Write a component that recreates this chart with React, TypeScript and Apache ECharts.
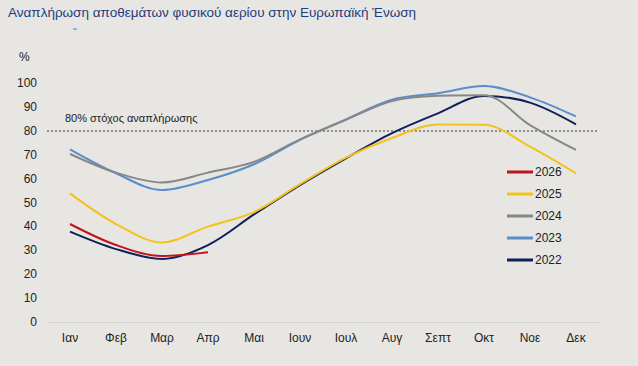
import React, { useEffect, useRef } from "react";
import * as echarts from "echarts";

const months = ["Ιαν", "Φεβ", "Μαρ", "Απρ", "Μαι", "Ιουν", "Ιουλ", "Αυγ", "Σεπτ", "Οκτ", "Νοε", "Δεκ"];
const y2026 = [41, 32.2, 27.6, 29.2];
const y2025 = [53.8, 41, 33.3, 39.9, 46, 57.7, 68.8, 77, 82.6, 82.5, 73.4, 62.2];
const y2024 = [70.3, 62.5, 58.4, 62.5, 67, 76.4, 84.6, 92.5, 94.7, 94.9, 82.4, 72];
const y2023 = [72.2, 62.2, 55.2, 59.4, 66, 76.2, 84.8, 93, 95.7, 98.7, 94, 86];
const y2022 = [37.8, 30.5, 26.4, 32.2, 45, 57.3, 68.5, 79, 87.3, 94.6, 91.8, 82.7];
const targetValue = 80;
const targetLabel = "80% στόχος αναπλήρωσης";
const title = "Αναπλήρωση αποθεμάτων φυσικού αερίου στην Ευρωπαϊκή Ένωση";

const seriesDefs = [
  { name: "2026", data: y2026, color: "#c0141c" },
  { name: "2025", data: y2025, color: "#f3c31c" },
  { name: "2024", data: y2024, color: "#878787" },
  { name: "2023", data: y2023, color: "#5b8ccc" },
  { name: "2022", data: y2022, color: "#0e1f5b" },
];

export default function App() {
  const ref = useRef<HTMLDivElement>(null);
  useEffect(() => {
    if (!ref.current) return;
    const chart = echarts.init(ref.current, null, { renderer: "svg" });
    const font = "Liberation Sans, Arial, sans-serif";
    const series: any[] = seriesDefs.map((s, i) => ({
      name: s.name,
      type: "line",
      data: s.data,
      smooth: 0.33,
      symbol: "none",
      z: 10 - i,
      lineStyle: { width: 2, color: s.color },
      itemStyle: { color: s.color },
    }));
    series.push({
      name: "target",
      type: "line",
      data: [],
      silent: true,
      markLine: {
        silent: true,
        symbol: "none",
        label: { show: false },
        lineStyle: { type: [2, 2], width: 2, color: "#8e8e8e" },
        data: [{ yAxis: targetValue }],
      },
    });
    chart.setOption({
      animation: false,
      backgroundColor: "#e7e6e2",
      textStyle: { fontFamily: font },
      grid: { left: 47, right: 39, top: 83, bottom: 44 },
      xAxis: {
        type: "category",
        data: months,
        boundaryGap: true,
        axisLine: { show: true, lineStyle: { color: "#d4d3cf", width: 1 } },
        axisTick: { show: false },
        axisLabel: { color: "#222", fontSize: 12, margin: 10, fontFamily: font },
      },
      yAxis: {
        type: "value",
        min: 0,
        max: 100,
        interval: 10,
        axisLine: { show: false },
        axisTick: { show: false },
        splitLine: { show: false },
        axisLabel: { color: "#222", fontSize: 12, margin: 10, fontFamily: font },
      },
      legend: {
        orient: "vertical",
        left: 502,
        top: 160,
        itemWidth: 26,
        itemHeight: 3,
        itemGap: 8,
        icon: "rect",
        data: seriesDefs.map((s) => s.name),
        textStyle: { color: "#222", fontSize: 12, fontFamily: font, padding: [0, 0, 0, -3], lineHeight: 14, height: 14 },
      },
      graphic: [
        {
          type: "text",
          left: 8,
          top: 5,
          style: { text: title, fill: "#1f3c7c", font: `13.5px ${font}` },
        },
        {
          type: "text",
          left: 73,
          top: 28,
          style: { text: "ˇ", fill: "#5b7db8", font: `12px ${font}` },
        },
        {
          type: "text",
          left: 19,
          top: 51,
          style: { text: "%", fill: "#222", font: `12px ${font}` },
        },
        {
          type: "text",
          left: 65,
          top: 112,
          style: { text: targetLabel, fill: "#222", font: `11px ${font}` },
        },
      ],
      series,
    });
    return () => chart.dispose();
  }, []);
  return <div ref={ref} style={{ position: "fixed", left: 0, top: 0, width: 638, height: 366 }} />;
}
